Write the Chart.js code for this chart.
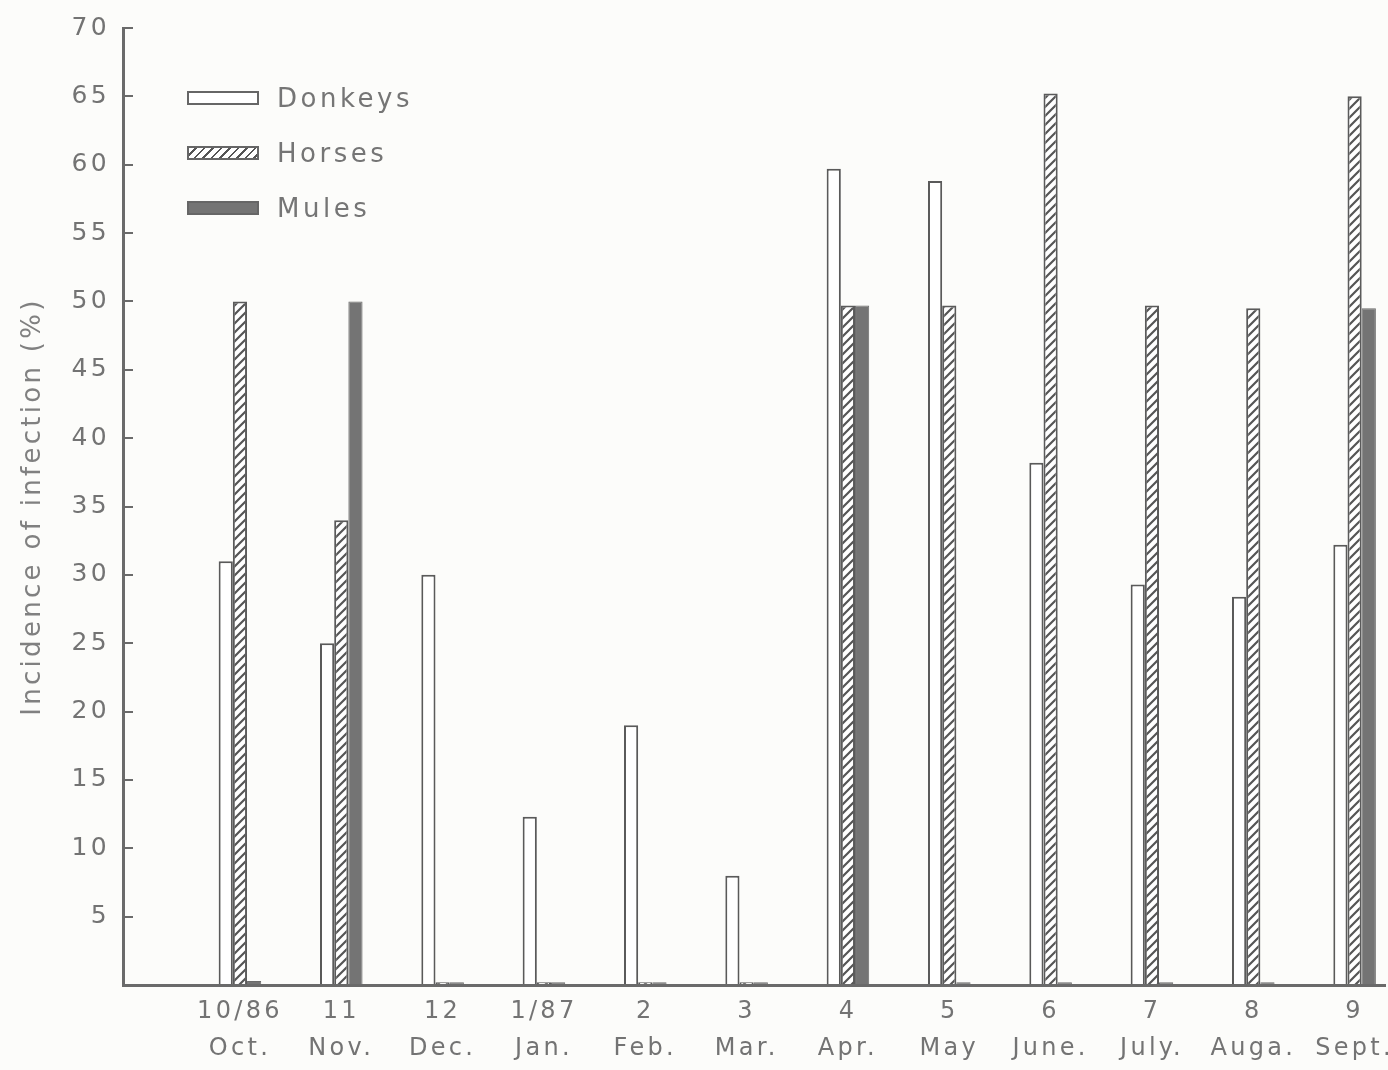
<!DOCTYPE html>
<html lang="en">
<head>
<meta charset="UTF-8" />
<title>Incidence of infection</title>
<script src="https://cdn.jsdelivr.net/npm/chart.js"></script>
<style>
  * { margin: 0; padding: 0; box-sizing: border-box; }
  body { background: #fcfcfa; width: 1388px; height: 1070px; overflow: hidden; }
  .wrap { position: relative; width: 1388px; height: 1070px; }
  .legend {
    position: absolute; left: 187px; top: 70px;
    font-family: 'DejaVu Sans', sans-serif; font-size: 26px; color: #757575;
    letter-spacing: 3.5px;
  }
  .legend div { height: 55px; display: flex; align-items: center; }
  .legend span.sw { display: inline-block; width: 72px; height: 14px; margin-right: 18px; border: 2px solid #666; }
  .sw.donk { background: #fff; }
  .sw.horse { background: repeating-linear-gradient(135deg, #fff 0 4px, #555 4px 6px); }
  .sw.mule { background: #747474; border-color: #707070; }
</style>
</head>
<body>
<div class="wrap">
  <canvas id="chart"></canvas>
  <div class="legend">
    <div><span class="sw donk"></span>Donkeys</div>
    <div><span class="sw horse"></span>Horses</div>
    <div><span class="sw mule"></span>Mules</div>
  </div>
</div>
<script>
// month codes and names (two-line x labels)
const codes = ['10/86', '11', '12', '1/87', '2', '3', '4', '5', '6', '7', '8', '9'];
const months = ['Oct.', 'Nov.', 'Dec.', 'Jan.', 'Feb.', 'Mar.', 'Apr.', 'May', 'June.', 'July.', 'Auga.', 'Sept.'];

// incidence of infection (%)
const donkeys = [31, 25, 30, 12.3, 19, 8, 59.7, 58.8, 38.2, 29.3, 28.4, 32.2];
const horses  = [50, 34, 0.2, 0.2, 0.2, 0.2, 49.7, 49.7, 65.2, 49.7, 49.5, 65];
const mules   = [0.3, 50, 0.2, 0.2, 0.2, 0.2, 49.7, 0.2, 0.2, 0.2, 0.2, 49.5];

const yTicks = [5, 10, 15, 20, 25, 30, 35, 40, 45, 50, 55, 60, 65, 70];

const ink = '#5a5a5a';
const textCol = '#737373';
const font = 'DejaVu Sans';

// diagonal hatch for horses
function hatch() {
  const c = document.createElement('canvas');
  c.width = 9; c.height = 9;
  const g = c.getContext('2d');
  g.fillStyle = '#fff';
  g.fillRect(0, 0, 9, 9);
  g.strokeStyle = '#555';
  g.lineWidth = 2.2;
  g.beginPath();
  g.moveTo(-1, 10); g.lineTo(10, -1);
  g.moveTo(-5.5, 5.5); g.lineTo(5.5, -5.5);
  g.moveTo(3.5, 14.5); g.lineTo(14.5, 3.5);
  g.stroke();
  return g.createPattern(c, 'repeat');
}

const pts = arr => arr.map((v, i) => ({ x: i, y: v }));

// wider lettering, like the stencilled original
const spacing = {
  id: 'spacing',
  beforeUpdate: c => { c.ctx.letterSpacing = '3.3px'; },
  beforeDraw: c => { c.ctx.letterSpacing = '3.3px'; }
};

new Chart(document.getElementById('chart'), {
  type: 'bar',
  plugins: [spacing],
  data: {
    datasets: [
      { label: 'Donkeys', data: pts(donkeys), backgroundColor: '#fff', borderColor: ink, borderWidth: 2 },
      { label: 'Horses', data: pts(horses), backgroundColor: hatch(), borderColor: ink, borderWidth: 2 },
      { label: 'Mules', data: pts(mules), backgroundColor: '#747474', borderColor: '#6a6a6a', borderWidth: 1 }
    ]
  },
  options: {
    responsive: true,
    maintainAspectRatio: false,
    animation: false,
    categoryPercentage: 0.42,
    barPercentage: 1,
    layout: { padding: { top: 28, right: 3, left: 0, bottom: 0 } },
    plugins: { legend: { display: false }, tooltip: { enabled: false } },
    scales: {
      x: {
        type: 'linear',
        offset: false,
        min: -1.154,
        max: 11.3,
        afterBuildTicks: s => { s.ticks = codes.map((_, i) => ({ value: i })); },
        afterFit: s => { s.height = 85; s.paddingLeft = 0; s.paddingRight = 0; },
        grid: { display: false, offset: false },
        border: { display: true, color: '#6a6a6a', width: 3 },
        ticks: {
          autoSkip: false, maxRotation: 0, padding: 0,
          color: textCol,
          font: { family: font, size: 24, lineHeight: 1.55 },
          callback: v => [codes[v], months[v]]
        }
      },
      y: {
        min: 0,
        max: 70,
        afterBuildTicks: s => { s.ticks = [0].concat(yTicks).map(v => ({ value: v })); },
        afterFit: s => { s.width = 123; s.paddingTop = 10; s.paddingBottom = 0; },
        grid: { drawOnChartArea: false, drawTicks: true, tickLength: -10, color: '#6a6a6a', lineWidth: 2 },
        border: { display: true, color: '#6a6a6a', width: 3 },
        ticks: {
          padding: 23,
          color: textCol,
          font: { family: font, size: 25 },
          callback: v => (v === 0 ? '' : v)
        },
        title: {
          display: true,
          text: 'Incidence of infection (%)',
          color: '#808080',
          font: { family: font, size: 26 },
          padding: { top: 18, bottom: 0 }
        }
      }
    }
  }
});
</script>
</body>
</html>
